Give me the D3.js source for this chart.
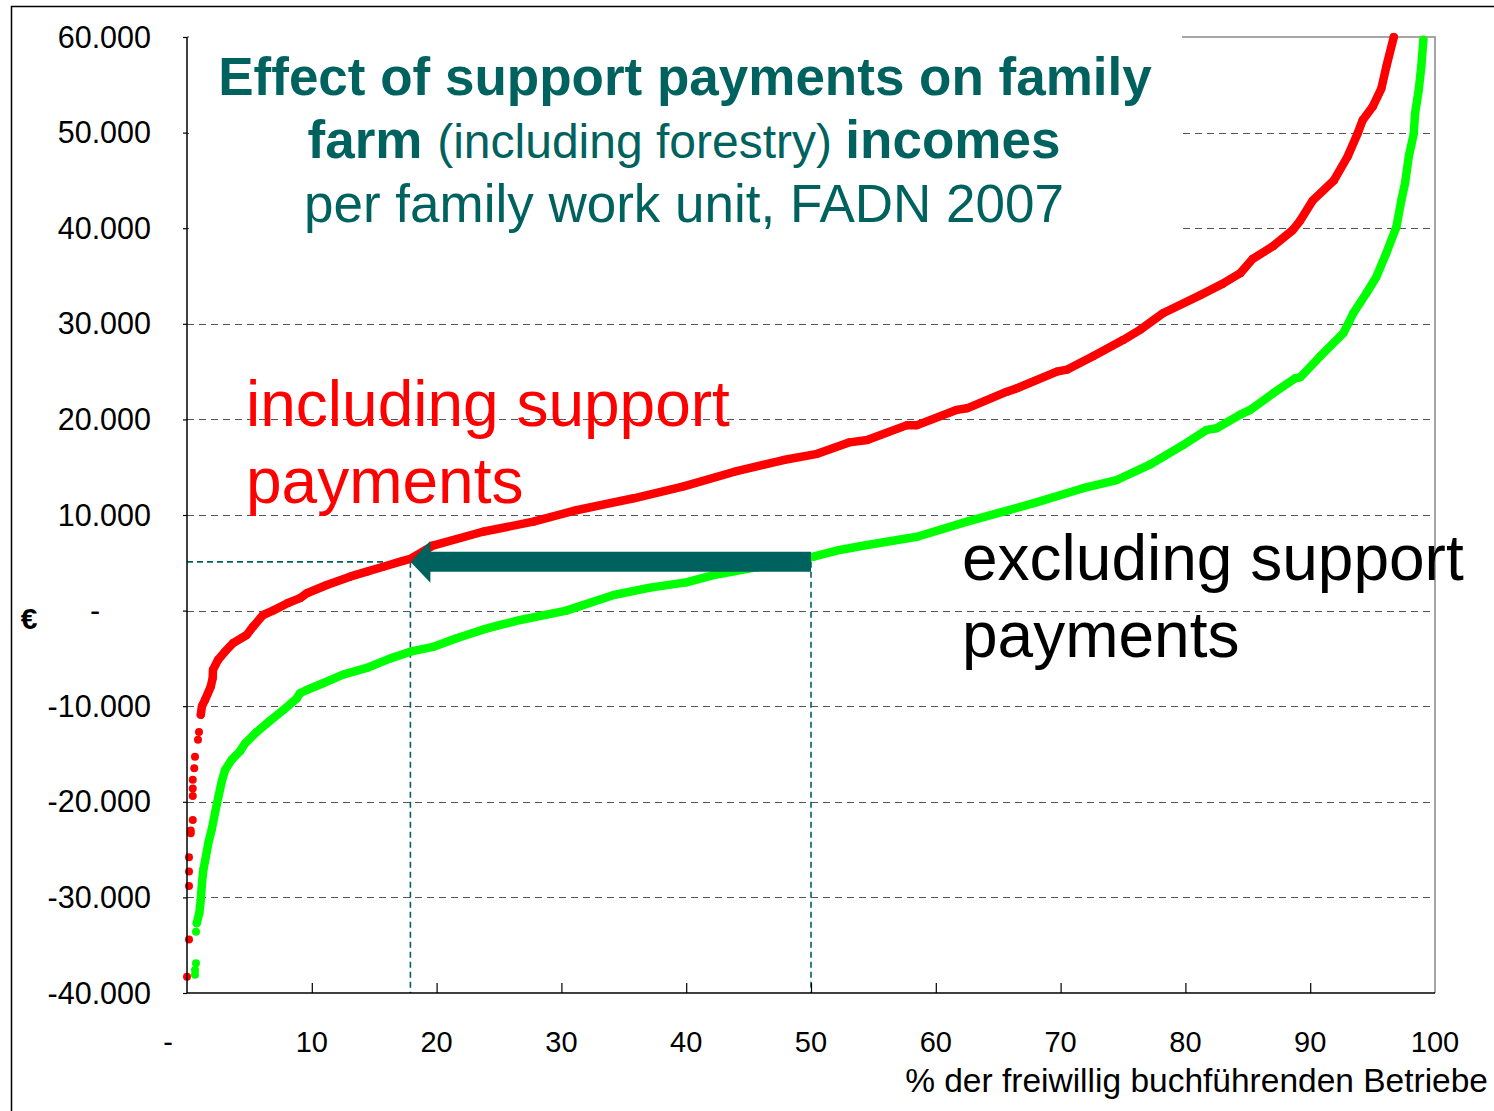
<!DOCTYPE html>
<html>
<head>
<meta charset="utf-8">
<script src="https://cdn.jsdelivr.net/npm/d3@7"></script>
<style>
  body { margin: 0; background: #fff; }
  svg { display: block; font-family: "Liberation Sans", Arial, sans-serif; }
</style>
</head>
<body>
<div id="chart"></div>
<script>
// percentiles of farms (x) and income per family work unit in € (y)
const redTailPct = [0.0, 0.16, 0.16, 0.16, 0.16, 0.3, 0.3, 0.46, 0.46, 0.46, 0.46, 0.58, 0.64, 0.88, 0.96];
const redTailVal = [-38300, -34400, -28800, -27300, -25800, -23300, -23000, -21900, -19400, -18600, -17700, -16500, -15300, -13500, -12700];

const redPct = [1.1, 1.2, 1.44, 1.9, 2.06, 2.08, 2.48, 3.04, 3.69, 4.78, 5.29, 6.09, 6.89, 8.09, 9.05, 9.6, 11.2, 13.06, 14.4,
  15.73, 17.3, 17.9, 19.7, 23.7, 27.75, 31.2, 35.8, 39.8, 43.8, 47.8, 50.5, 53.1, 54.5, 57.7, 58.5, 61.7, 62.5, 65.7, 66.5,
  69.7, 70.5, 72.6, 75.0, 76.4, 78.2, 81.2, 83.0, 84.4, 85.4, 87.0, 88.6, 89.2, 90.2, 91.9, 93.0, 93.8, 94.2, 95.0, 95.7, 96.1, 96.7];
const redVal = [-10900, -10000, -9350, -7960, -7050, -6200, -5170, -4300, -3400, -2550, -1680, -460, 0, 800, 1300, 1810, 2680, 3550, 4070,
  4590, 5200, 5400, 6800, 8250, 9300, 10500, 11750, 13000, 14500, 15750, 16400, 17600, 17850, 19400, 19400, 21000, 21160, 22900, 23250,
  25000, 25200, 26600, 28300, 29400, 31100, 33000, 34200, 35300, 36800, 38100, 39800, 40800, 42900, 45000, 47500, 49900, 51300, 52700, 54600, 56900, 60000];

const greenTailPct = [0.64, 0.64, 0.72, 0.72];
const greenTailVal = [-38100, -37600, -36900, -33600];

const greenPct = [0.78, 0.99, 1.1, 1.2, 1.31, 1.52, 1.71, 1.98, 2.24, 2.51, 2.78, 3.04, 3.58, 4.25, 4.65, 5.58, 6.39, 7.72, 8.79,
  9.05, 9.59, 10.9, 12.5, 14.4, 16.3, 17.9, 19.7, 21.6, 23.7, 25.1, 26.7, 30.4, 34.2, 37.1, 40.0, 42.2, 45.9, 49.1, 50.2, 52.3,
  54.5, 58.5, 62.5, 67.8, 71.8, 74.5, 77.2, 79.8, 81.7, 82.5, 84.4, 85.2, 87.0, 88.8, 89.2, 90.8, 92.65, 93.45, 94.5, 95.3,
  96.1, 96.9, 97.3, 97.6, 97.9, 98.3, 98.4, 98.7, 98.9, 99.07];
const greenVal = [-32700, -31600, -30300, -28500, -27100, -25700, -24300, -22900, -21200, -19500, -17900, -16700, -15600, -14700, -13900, -12700, -11800, -10400, -9200,
  -8650, -8300, -7600, -6700, -6000, -5000, -4300, -3800, -2900, -2000, -1500, -980, 0, 1630, 2400, 2950, 3720, 4600, 5470, 5640, 6340,
  6860, 7730, 9300, 11220, 12800, 13660, 15300, 17300, 18900, 19070, 20500, 21000, 22700, 24300, 24400, 26600, 29000, 31100, 33200, 34900,
  37400, 40100, 42900, 44700, 47500, 49900, 52000, 54500, 56900, 59700];

const yTicks = [-40000, -30000, -20000, -10000, 0, 10000, 20000, 30000, 40000, 50000, 60000];
const xTicks = [0, 10, 20, 30, 40, 50, 60, 70, 80, 90, 100];

// the arrow: from median farm without support to the same income with support
const arrowFrom = 50;
const arrowTo = 17.9;
const arrowVal = 5100;

const W = 1494, H = 1111;
const teal = "#00625F";

const svg = d3.select("#chart").append("svg")
  .attr("width", W)
  .attr("height", H);

const x = d3.scaleLinear().domain([0, 100]).range([187, 1435]);
const y = d3.scaleLinear().domain([-40000, 60000]).range([993, 37]);

const fmt = d3.formatLocale({ decimal: ",", thousands: ".", grouping: [3], currency: ["", " €"], minus: "-" }).format(",");

// outer frame
svg.append("path")
  .attr("d", `M11.5,${H} L11.5,6.5 L${W},6.5`)
  .attr("fill", "none")
  .attr("stroke", "#000")
  .attr("stroke-width", 1.5);

// gridlines
svg.append("g")
  .selectAll("line")
  .data(yTicks.filter((d) => d > -40000 && d < 60000))
  .join("line")
  .attr("x1", x(0))
  .attr("x2", x(100))
  .attr("y1", (d) => Math.round(y(d)) + 0.5)
  .attr("y2", (d) => Math.round(y(d)) + 0.5)
  .attr("stroke", "#555")
  .attr("stroke-width", 1)
  .attr("stroke-dasharray", "7,5");

// plot border top and right (gray)
svg.append("path")
  .attr("d", `M${x(0)},${y(60000)} L${x(100)},${y(60000)} L${x(100)},${y(-40000)}`)
  .attr("fill", "none")
  .attr("stroke", "#888")
  .attr("stroke-width", 1.5);

// dashed guide lines of the arrow
const guides = svg.append("g")
  .attr("stroke", teal)
  .attr("stroke-width", 1.6)
  .attr("stroke-dasharray", "6,4")
  .attr("fill", "none");
guides.append("line")
  .attr("x1", x(0)).attr("x2", x(arrowTo))
  .attr("y1", y(arrowVal)).attr("y2", y(arrowVal));
guides.append("line")
  .attr("x1", x(arrowTo)).attr("x2", x(arrowTo))
  .attr("y1", y(arrowVal)).attr("y2", y(-40000));
guides.append("line")
  .attr("x1", x(arrowFrom)).attr("x2", x(arrowFrom))
  .attr("y1", y(arrowVal)).attr("y2", y(-40000));

// series
const line = d3.line().x((d) => x(d[0])).y((d) => y(d[1]));

function drawSeries(pct, val, tailPct, tailVal, color) {
  const pts = pct.map((p, i) => [p, val[i]]);
  const tail = tailPct.map((p, i) => [p, tailVal[i]]);
  const g = svg.append("g");
  g.append("path")
    .datum(pts)
    .attr("d", line)
    .attr("fill", "none")
    .attr("stroke", color)
    .attr("stroke-width", 8.5)
    .attr("stroke-linecap", "round")
    .attr("stroke-linejoin", "round");
  g.selectAll("circle")
    .data(tail.concat(pts))
    .join("circle")
    .attr("cx", (d) => x(d[0]))
    .attr("cy", (d) => y(d[1]))
    .attr("r", 4)
    .attr("fill", color);
}

drawSeries(greenPct, greenVal, greenTailPct, greenTailVal, "#00FF00");
drawSeries(redPct, redVal, redTailPct, redTailVal, "#FF0000");

// arrow
const ax0 = x(arrowFrom), ax1 = x(arrowTo), ay = y(arrowVal);
svg.append("path")
  .attr("d", `M${ax0},${ay - 10} L${ax1 + 20},${ay - 10} L${ax1 + 20},${ay - 21} L${ax1},${ay} L${ax1 + 20},${ay + 21} L${ax1 + 20},${ay + 10} L${ax0},${ay + 10} Z`)
  .attr("fill", teal);

// axes
const yAxis = svg.append("g")
  .attr("transform", `translate(${x(0)},0)`)
  .call(d3.axisLeft(y).tickValues(yTicks).tickSize(4).tickFormat(""));
const xAxis = svg.append("g")
  .attr("transform", `translate(0,${y(-40000)})`)
  .call(d3.axisTop(x).tickValues(xTicks.slice(1, 10)).tickSize(10).tickFormat(""));
[yAxis, xAxis].forEach((a) => {
  a.select(".domain").attr("stroke", "#000").attr("stroke-width", 1.5);
  a.selectAll(".tick line").attr("stroke", "#000").attr("stroke-width", 1.2);
});
// keep the axis lines without the outer tick stubs
yAxis.select(".domain").attr("d", `M0,${y(60000)}V${y(-40000)}`);
xAxis.select(".domain").attr("d", `M${x(0)},0H${x(100)}`);

// tick labels
svg.append("g")
  .selectAll("text")
  .data(yTicks)
  .join("text")
  .attr("x", (d) => (d === 0 ? 95 : 151))
  .attr("y", (d) => y(d) + 10.5)
  .attr("text-anchor", (d) => (d === 0 ? "middle" : "end"))
  .attr("font-size", 30.5)
  .attr("fill", "#000")
  .text((d) => (d === 0 ? "-" : fmt(d)));

svg.append("g")
  .selectAll("text")
  .data(xTicks)
  .join("text")
  .attr("x", (d) => (d === 0 ? x(0) - 19 : x(d)))
  .attr("y", 1052)
  .attr("text-anchor", "middle")
  .attr("font-size", 29)
  .attr("fill", "#000")
  .text((d) => (d === 0 ? "-" : d));

svg.append("text")
  .attr("x", 29).attr("y", 629)
  .attr("text-anchor", "middle")
  .attr("font-size", 30)
  .attr("font-weight", "bold")
  .text("€");

svg.append("text")
  .attr("x", 1488).attr("y", 1092)
  .attr("text-anchor", "end")
  .attr("font-size", 33.5)
  .text("% der freiwillig buchführenden Betriebe");

// title box
svg.append("rect")
  .attr("x", 189).attr("y", 30)
  .attr("width", 993).attr("height", 210)
  .attr("fill", "#fff");

const title = svg.append("text")
  .attr("text-anchor", "middle")
  .attr("fill", teal);
title.append("tspan").attr("x", 685).attr("y", 95)
  .attr("font-size", 53).attr("font-weight", "bold")
  .text("Effect of support payments on family");
const t2 = title.append("tspan").attr("x", 684).attr("y", 158);
t2.append("tspan").attr("font-size", 53).attr("font-weight", "bold").text("farm ");
t2.append("tspan").attr("font-size", 48).text("(including forestry) ");
t2.append("tspan").attr("font-size", 53).attr("font-weight", "bold").text("incomes");
title.append("tspan").attr("x", 684).attr("y", 222)
  .attr("font-size", 53)
  .text("per family work unit, FADN 2007");

// series labels
const inc = svg.append("text").attr("fill", "#FF0000").attr("font-size", 64);
inc.append("tspan").attr("x", 246).attr("y", 426).text("including support");
inc.append("tspan").attr("x", 246).attr("y", 503).text("payments");

const exc = svg.append("text").attr("fill", "#000").attr("font-size", 64);
exc.append("tspan").attr("x", 962).attr("y", 580).text("excluding support");
exc.append("tspan").attr("x", 962).attr("y", 657).text("payments");
</script>
</body>
</html>
